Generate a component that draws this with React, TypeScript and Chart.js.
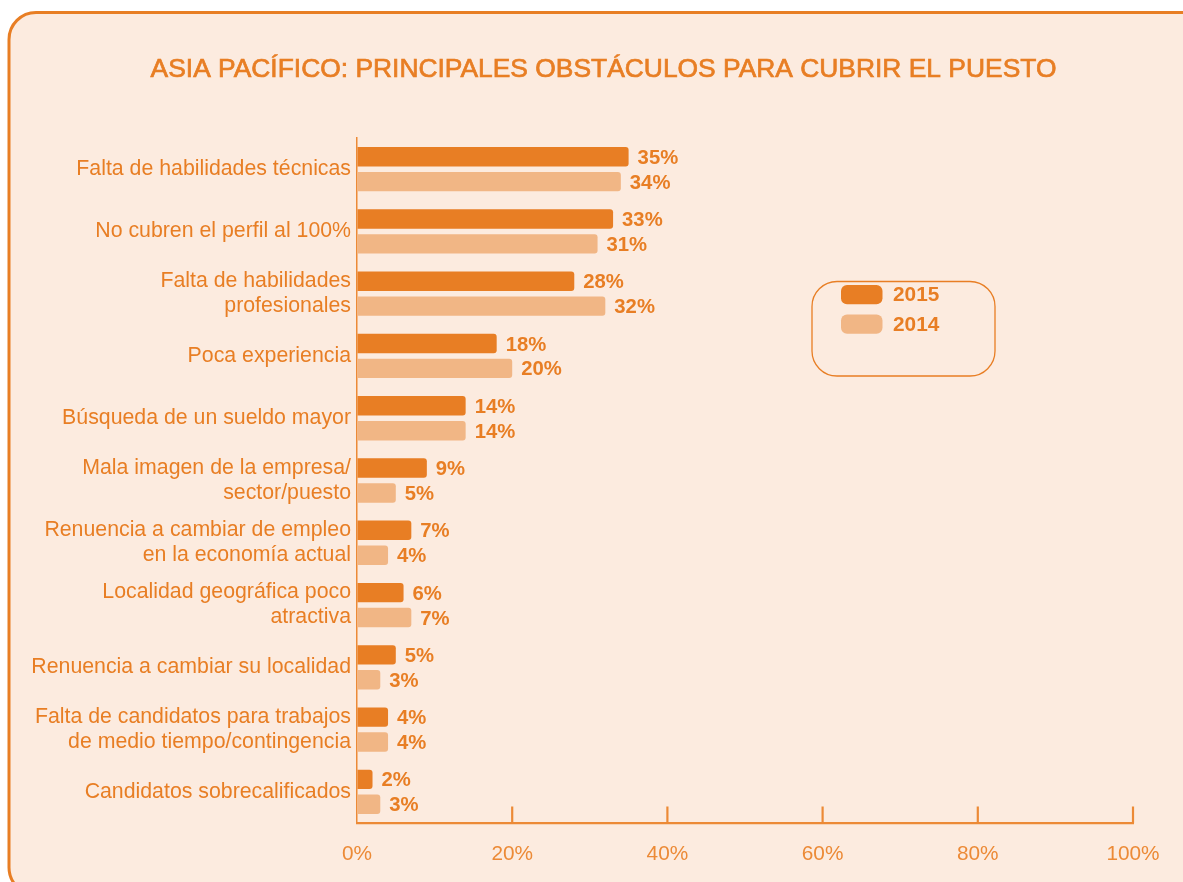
import React, { useEffect, useRef } from "react";
import { Chart, registerables } from "chart.js";

Chart.register(...registerables);

const TITLE = "ASIA PACÍFICO: PRINCIPALES OBSTÁCULOS PARA CUBRIR EL PUESTO";

const categories: (string | string[])[] = [
  "Falta de habilidades técnicas",
  "No cubren el perfil al 100%",
  ["Falta de habilidades", "profesionales"],
  "Poca experiencia",
  "Búsqueda de un sueldo mayor",
  ["Mala imagen de la empresa/", "sector/puesto"],
  ["Renuencia a cambiar de empleo", "en la economía actual"],
  ["Localidad geográfica poco", "atractiva"],
  "Renuencia a cambiar su localidad",
  ["Falta de candidatos para trabajos", "de medio tiempo/contingencia"],
  "Candidatos sobrecalificados",
];

const values2015 = [35, 33, 28, 18, 14, 9, 7, 6, 5, 4, 2];
const values2014 = [34, 31, 32, 20, 14, 5, 4, 7, 3, 4, 3];

const seriesLabels = ["2015", "2014"];
const xTicks = [0, 20, 40, 60, 80, 100];

const ORANGE = "#E87E24";
const LIGHT = "#F1B685";
const AXIS = "#EC8A36";
const BG = "#FCEBDF";
const FONT = "'Liberation Sans', Arial, Helvetica, sans-serif";

function roundRect(ctx: CanvasRenderingContext2D, x: number, y: number, w: number, h: number, r: number) {
  ctx.beginPath();
  ctx.moveTo(x + r, y);
  ctx.lineTo(x + w - r, y);
  ctx.arcTo(x + w, y, x + w, y + r, r);
  ctx.lineTo(x + w, y + h - r);
  ctx.arcTo(x + w, y + h, x + w - r, y + h, r);
  ctx.lineTo(x + r, y + h);
  ctx.arcTo(x, y + h, x, y + h - r, r);
  ctx.lineTo(x, y + r);
  ctx.arcTo(x, y, x + r, y, r);
  ctx.closePath();
}

const decorPlugin = {
  id: "decor",
  beforeDraw(chart: any) {
    const ctx = chart.ctx as CanvasRenderingContext2D;
    ctx.save();
    ctx.fillStyle = "#ffffff";
    ctx.fillRect(0, 0, chart.width, chart.height);
    roundRect(ctx, 9, 12.5, 1220, 882, 27);
    ctx.fillStyle = BG;
    ctx.fill();
    ctx.lineWidth = 3;
    ctx.strokeStyle = ORANGE;
    ctx.stroke();

    // title (slightly heavier than regular)
    ctx.fillStyle = ORANGE;
    ctx.strokeStyle = ORANGE;
    ctx.lineWidth = 0.7;
    ctx.font = `26.4px ${FONT}`;
    ctx.textAlign = "center";
    ctx.textBaseline = "alphabetic";
    ctx.fillText(TITLE, 603.5, 77);
    ctx.strokeText(TITLE, 603.5, 77);

    // legend box
    roundRect(ctx, 812, 281.5, 183, 94.5, 25);
    ctx.lineWidth = 1.3;
    ctx.strokeStyle = ORANGE;
    ctx.stroke();
    const colors = [ORANGE, LIGHT];
    const ys = [285, 314.5];
    ctx.font = `bold 20.8px ${FONT}`;
    ctx.textAlign = "left";
    ctx.textBaseline = "middle";
    seriesLabels.forEach((lab, i) => {
      roundRect(ctx, 841, ys[i], 41.5, 19.3, 6);
      ctx.fillStyle = colors[i];
      ctx.fill();
      ctx.fillStyle = ORANGE;
      ctx.fillText(lab, 893, ys[i] + 10.5);
    });
    ctx.restore();
  },
  afterDatasetsDraw(chart: any) {
    const ctx = chart.ctx as CanvasRenderingContext2D;
    ctx.save();
    ctx.font = `bold 20.3px ${FONT}`;
    ctx.fillStyle = ORANGE;
    ctx.textAlign = "left";
    ctx.textBaseline = "middle";
    chart.data.datasets.forEach((ds: any, di: number) => {
      const meta = chart.getDatasetMeta(di);
      meta.data.forEach((bar: any, i: number) => {
        ctx.fillText(`${ds.data[i]}%`, bar.x + 9, bar.y + 1.5);
      });
    });
    ctx.restore();
  },
  afterDraw(chart: any) {
    const ctx = chart.ctx as CanvasRenderingContext2D;
    const xs = chart.scales.x;
    const bottom = chart.chartArea.bottom;
    ctx.save();
    ctx.strokeStyle = AXIS;
    ctx.lineWidth = 2.2;
    xTicks.forEach((v) => {
      if (v === 0) return;
      const px = xs.getPixelForValue(v);
      ctx.beginPath();
      ctx.moveTo(px, bottom);
      ctx.lineTo(px, bottom - 16.5);
      ctx.stroke();
    });
    ctx.restore();
  },
};

export default function App() {
  const ref = useRef<HTMLCanvasElement | null>(null);

  useEffect(() => {
    if (!ref.current) return;
    const chart = new Chart(ref.current, {
      type: "bar",
      data: {
        labels: categories as any,
        datasets: [
          {
            label: seriesLabels[0],
            data: values2015,
            backgroundColor: ORANGE,
            borderRadius: 3,
            borderSkipped: "start",
            categoryPercentage: 0.8,
            barPercentage: 0.78,
          },
          {
            label: seriesLabels[1],
            data: values2014,
            backgroundColor: LIGHT,
            borderRadius: 3,
            borderSkipped: "start",
            categoryPercentage: 0.8,
            barPercentage: 0.78,
          },
        ],
      },
      options: {
        indexAxis: "y",
        responsive: false,
        animation: false,
        events: [],
        layout: { padding: { top: 138, right: 50, bottom: 0, left: 0 } },
        plugins: {
          legend: { display: false },
          title: { display: false },
          tooltip: { enabled: false },
        },
        scales: {
          x: {
            min: 0,
            max: 100,
            afterBuildTicks: (scale: any) => {
              scale.ticks = xTicks.map((v) => ({ value: v }));
            },
            afterFit: (scale: any) => {
              scale.height = 59;
            },
            grid: { display: true, drawOnChartArea: false, drawTicks: false },
            border: { display: true, color: AXIS, width: 2.2 },
            ticks: {
              padding: 19,
              color: AXIS,
              font: { family: FONT, size: 20.8 },
              maxRotation: 0,
              callback: (v: any) => `${v}%`,
            },
          },
          y: {
            afterFit: (scale: any) => {
              scale.width = 357;
            },
            grid: { display: true, drawOnChartArea: false, drawTicks: false },
            border: { display: true, color: AXIS, width: 1.5 },
            ticks: {
              padding: 6,
              color: ORANGE,
              font: { family: FONT, size: 21.3, lineHeight: 1.18 },
            },
          },
        },
      },
      plugins: [decorPlugin],
    });
    return () => chart.destroy();
  }, []);

  return (
    <div
      style={{
        position: "fixed",
        left: 0,
        top: 0,
        width: 1183,
        height: 882,
        overflow: "hidden",
        background: "#fff",
      }}
    >
      <canvas ref={ref} width={1183} height={882} style={{ display: "block" }} />
    </div>
  );
}
